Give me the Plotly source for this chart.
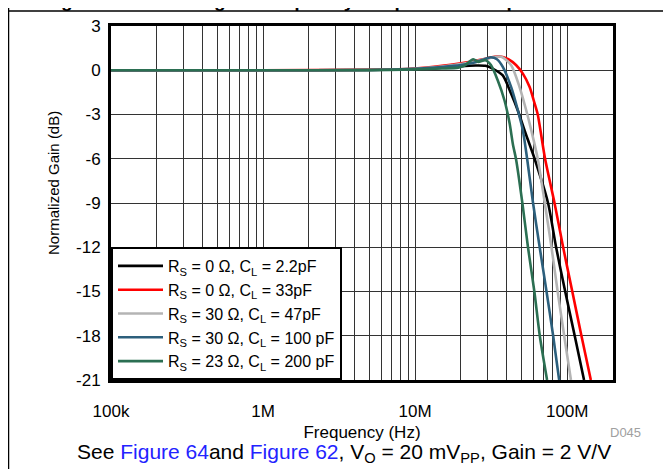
import plotly.graph_objects as go

# Frequency (MHz) / normalized gain (dB)
freq_black = [0.1, 1, 5, 10, 15, 20, 25, 29, 32.5, 37.7, 42.8, 47.4, 52.5, 61.5, 74.8, 84.5, 97, 112, 129]
gain_black = [0, 0, 0.02, 0.08, 0.18, 0.28, 0.32, 0.3, 0.1, -0.35, -1.6, -2.75, -4.1, -6.1, -9, -12, -15, -18, -21]

freq_red = [0.1, 1, 5, 10, 15, 20, 25, 30, 35.8, 41, 46.2, 51.1, 56.6, 61.1, 64, 66.5, 71.5, 82.5, 94, 108, 124, 143]
gain_red = [0, 0, 0.03, 0.12, 0.3, 0.48, 0.65, 0.82, 0.95, 0.75, 0.34, -0.23, -1.14, -2.27, -3, -4, -6, -9, -12, -15, -18, -21]

freq_gray = [0.1, 1, 5, 10, 15, 20, 25, 30, 36.8, 42.8, 48.6, 53.8, 58.1, 64, 71.2, 78.8, 86.5, 95.5, 105.8]
gain_gray = [0, 0, 0.02, 0.1, 0.25, 0.42, 0.6, 0.8, 0.92, 0.34, -1.14, -2.73, -4.09, -6, -9, -12, -15, -18, -21]

freq_blue = [0.1, 1, 5, 10, 15, 20, 25, 28, 31.5, 34.5, 37.7, 42.8, 47.4, 51.1, 54.5, 59.6, 65.9, 73.1, 80.8, 88.5]
gain_blue = [0, 0, 0.02, 0.1, 0.22, 0.35, 0.55, 0.72, 0.88, 0.75, 0.23, -1.14, -2.73, -4.09, -6, -9, -12, -15, -18, -21]

freq_green = [0.1, 1, 5, 10, 15, 19.2, 21, 24.1, 26, 29, 31.5, 34.9, 38.7, 41.8, 43.9, 46.2, 50.7, 55.2, 60.8, 66, 73.7]
gain_green = [0, 0, 0.01, 0.06, 0.12, 0.18, 0.3, 0.75, 0.57, 0.68, 0.35, -0.68, -2.05, -3.6, -5, -6.1, -9, -12, -15, -18, -21]

series = [
    ("R<sub>S</sub> = 0 Ω, C<sub>L</sub> = 2.2pF", freq_black, gain_black, "#000000"),
    ("R<sub>S</sub> = 0 Ω, C<sub>L</sub> = 33pF", freq_red, gain_red, "#ff0000"),
    ("R<sub>S</sub> = 30 Ω, C<sub>L</sub> = 47pF", freq_gray, gain_gray, "#b4b4b4"),
    ("R<sub>S</sub> = 30 Ω, C<sub>L</sub> = 100 pF", freq_blue, gain_blue, "#2c5f7c"),
    ("R<sub>S</sub> = 23 Ω, C<sub>L</sub> = 200 pF", freq_green, gain_green, "#2b6f52"),
]

decade_labels = {1e5: "100k", 1e6: "1M", 1e7: "10M", 1e8: "100M"}
y_ticks = [3, 0, -3, -6, -9, -12, -15, -18, -21]

# the page puts the figure 8px in from the top-left corner, so
# every position below is the wanted screen position minus OFF
OFF = 8
W, H = 671, 469
L, T = 111 - OFF, 26 - OFF
R = W - (613 - OFF)
B = H - (380 - OFF)
FONT = "Liberation Sans, Arial, sans-serif"


def px(x, y):
    # screen pixel position -> paper coordinates
    x, y = x - OFF, y - OFF
    return (x - L) / (W - L - R), (H - B - y) / (H - T - B)


fig = go.Figure()
for name, f, g, color in series:
    fig.add_trace(
        go.Scatter(
            x=[v * 1e6 for v in f], y=g, mode="lines", name=name,
            line=dict(color=color, width=2.6, shape="spline", smoothing=0.7),
        )
    )

# gridline positions: every 1..9 multiple per decade
grid_x = []
for d in [1e5, 1e6, 1e7, 1e8]:
    for m in range(1, 10):
        if d * m <= 2e8:
            grid_x.append(d * m)
grid_text = [decade_labels.get(v, "") for v in grid_x]

fig.update_xaxes(
    type="log", range=[5, 8.30103], tickvals=grid_x, ticktext=grid_text, tickangle=0,
    showgrid=True, gridcolor="#333333", gridwidth=1,
    showline=True, linecolor="black", linewidth=3, mirror=True,
    ticks="", tickfont=dict(size=17, color="black"), ticklabelstandoff=14,
    title=dict(text="Frequency (Hz)", font=dict(size=17, color="black"), standoff=6),
    zeroline=False, automargin=False,
)
fig.update_yaxes(
    range=[-21, 3], tickvals=y_ticks, ticktext=[str(v) for v in y_ticks],
    showgrid=True, gridcolor="#333333", gridwidth=1,
    showline=True, linecolor="black", linewidth=3, mirror=True,
    ticks="", tickfont=dict(size=17, color="black"), ticklabelstandoff=4,
    zeroline=False, automargin=False,
)

ax, ay = px(53, 183)
cx, cy = px(344, 453)
dx, dy = px(625, 432)
tx, ty = px(336, 13)
lx, _ = px(OFF + 0.5, 0)
_, ly0 = px(0, OFF)
_, ly1 = px(0, H + OFF)
_, hy = px(0, 11)
rx, _ = px(W + OFF, 0)

fig.update_layout(
    width=W, height=H,
    margin=dict(l=L, r=R, t=T, b=B),
    paper_bgcolor="white", plot_bgcolor="white",
    font=dict(family=FONT, color="black"),
    showlegend=True,
    legend=dict(
        x=0, y=0, xanchor="left", yanchor="bottom",
        bgcolor="white", bordercolor="black", borderwidth=2,
        font=dict(size=16, color="black"), tracegroupgap=0,
        itemwidth=45, entrywidth=200, entrywidthmode="pixels",
    ),
    shapes=[
        dict(type="line", xref="paper", yref="paper", x0=lx, x1=lx, y0=ly0, y1=ly1,
             line=dict(color="black", width=1.5)),
        dict(type="line", xref="paper", yref="paper", x0=lx, x1=rx, y0=hy, y1=hy,
             line=dict(color="black", width=1.5)),
    ],
    annotations=[
        dict(text="Normalized Gain (dB)", x=ax, y=ay, xref="paper", yref="paper",
             xanchor="center", yanchor="middle",
             showarrow=False, textangle=-90, font=dict(size=15)),
        dict(text='See <span style="color:#2323ff">Figure 64</span>and '
                  '<span style="color:#2323ff">Figure 62</span>, V<sub>O</sub> = 20 mV<sub>PP</sub>, Gain = 2 V/V',
             x=cx, y=cy, xref="paper", yref="paper", xanchor="center", yanchor="middle",
             showarrow=False, font=dict(size=21)),
        dict(text="D045", x=dx, y=dy, xref="paper", yref="paper", showarrow=False,
             xanchor="center", yanchor="middle", font=dict(size=13, color="#a0a0a0")),
        dict(text="<b>Figure 63. Small-Signal Frequency Response vs Capacitive Load</b>",
             x=tx, y=ty, xref="paper", yref="paper", showarrow=False,
             xanchor="center", yanchor="bottom", font=dict(size=19)),
    ],
)

fig.write_html("out.html")
